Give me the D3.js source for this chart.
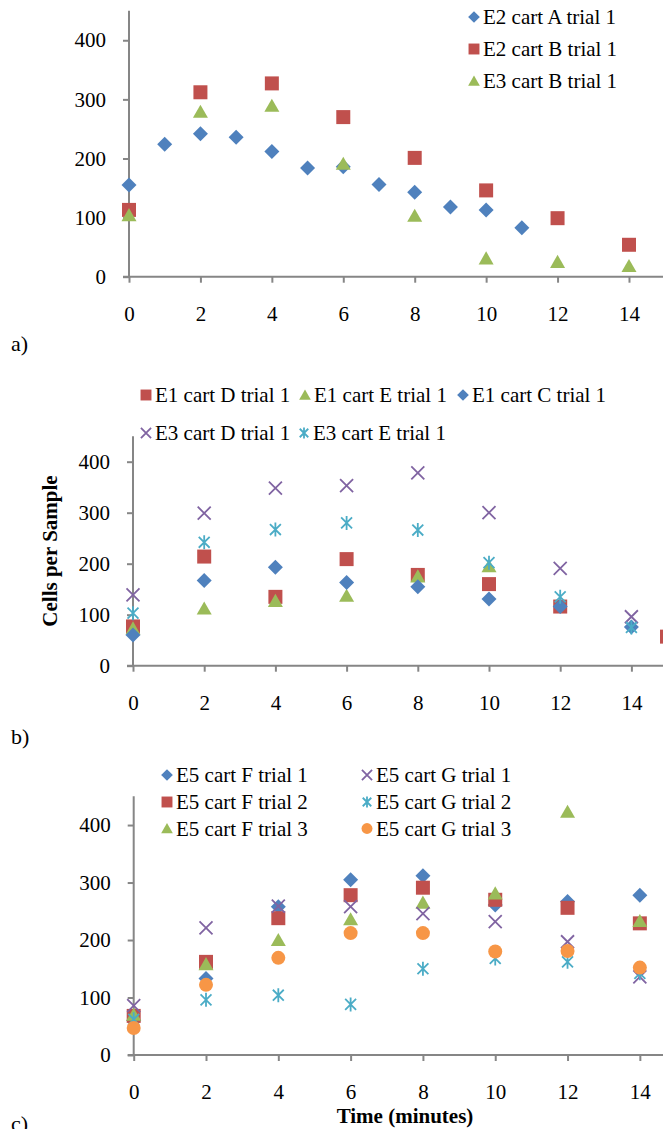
<!DOCTYPE html>
<html><head><meta charset="utf-8">
<script src="https://cdn.jsdelivr.net/npm/d3@7"></script>
<style>
html,body{margin:0;padding:0;background:#fff;}
svg{display:block;}
text{font-family:"Liberation Serif","Times New Roman",serif;fill:#000;}
</style></head>
<body>
<svg id="chart" width="663" height="1129"></svg>
<script>
// ---------- DATA ----------
const xTicks = [0, 2, 4, 6, 8, 10, 12, 14];
const yTicks = [0, 100, 200, 300, 400];

// Panel a
const aTimeA = [0, 1, 2, 3, 4, 5, 6, 7, 8, 9, 10, 11];
const aE2CartA = [155, 224, 242, 236, 212, 184, 186, 156, 143, 118, 113, 83];
const aTimeEven = [0, 2, 4, 6, 8, 10, 12, 14];
const aE2CartB = [113, 312, 327, 270, 201, 146, 99, 54];
const aE3CartB = [104, 279, 289, 191, 103, 31, 25, 18];

// Panel b
const bTimeD = [0, 2, 4, 6, 8, 10, 12, 15];
const bE1CartD = [77, 214, 135, 209, 178, 160, 116, 57];
const bTimeE = [0, 2, 4, 6, 8, 10];
const bE1CartE = [73, 112, 127, 137, 175, 195];
const bTime = [0, 2, 4, 6, 8, 10, 12, 14];
const bE1CartC = [60, 167, 193, 163, 155, 131, 116, 76];
const bE3CartD = [139, 299, 348, 353, 378, 300, 191, 96];
const bE3CartE = [103, 242, 267, 280, 266, 202, 135, 75];

// Panel c
const cTime = [0, 2, 4, 6, 8, 10, 12, 14];
const cFtrial1 = [60, 133, 258, 305, 312, 261, 267, 278];
const cFtrial2 = [68, 162, 238, 278, 291, 270, 256, 229];
const cFtrial3 = [70, 158, 200, 236, 265, 281, 423, 233];
const cGtrial1 = [86, 221, 259, 258, 246, 232, 197, 136];
const cGtrial2 = [62, 96, 104, 88, 150, 168, 162, 142];
const cGtrial3 = [47, 122, 169, 212, 212, 180, 181, 152];

// ---------- STYLE ----------
const C = {blue:"#4F81BD", red:"#C0504D", green:"#9BBB59", purple:"#8064A2", cyan:"#4BACC6", orange:"#F79646"};
const AXIS = "#868686";
const FS = 21;

const svg = d3.select("#chart");

// marker shapes as d3 symbol types (s = half size)
const shapes = {
  diamond: {draw(ctx, s){ ctx.moveTo(0,-s); ctx.lineTo(s,0); ctx.lineTo(0,s); ctx.lineTo(-s,0); ctx.closePath(); }},
  square: {draw(ctx, s){ ctx.rect(-s,-s,2*s,2*s); }},
  triangle: {draw(ctx, s){ ctx.moveTo(0,-s*0.95); ctx.lineTo(s,s*0.8); ctx.lineTo(-s,s*0.8); ctx.closePath(); }},
  circle: {draw(ctx, s){ ctx.moveTo(s,0); ctx.arc(0,0,s,0,2*Math.PI); }},
  x: {draw(ctx, s){ ctx.moveTo(-s,-s); ctx.lineTo(s,s); ctx.moveTo(s,-s); ctx.lineTo(-s,s); }},
  star: {draw(ctx, s){ const d=s*0.78; ctx.moveTo(-d,-d); ctx.lineTo(d,d); ctx.moveTo(d,-d); ctx.lineTo(-d,d); ctx.moveTo(0,-s); ctx.lineTo(0,s); }}
};
const sizes = {diamond:7.5, square:7, triangle:7.5, circle:7, x:6.5, star:7};
const stroked = {x:true, star:true};

function marker(g, shape, color, cx, cy, scale){
  const s = sizes[shape]*(scale||1);
  const p = g.append("path")
    .attr("d", d3.symbol().type(shapes[shape]).size(s)())
    .attr("transform", `translate(${cx},${cy})`);
  if (stroked[shape]) p.attr("fill","none").attr("stroke",color).attr("stroke-width",1.8);
  else p.attr("fill",color);
}

function panel(cfg){
  const x = d3.scaleLinear().domain([0,15]).range([cfg.left, cfg.right]);
  const y = d3.scaleLinear().domain([0,450]).range([cfg.bottom, cfg.top]);
  const g = svg.append("g");

  const ya = g.append("g").attr("transform",`translate(${cfg.left},0)`)
    .call(d3.axisLeft(y).tickValues(yTicks).tickSize(6).tickPadding(17).tickFormat(d3.format("d")));
  const xa = g.append("g").attr("transform",`translate(0,${cfg.bottom})`)
    .call(d3.axisBottom(x).tickValues(xTicks).tickSize(6).tickPadding(23).tickFormat(d3.format("d")));
  [ya, xa].forEach(a => {
    a.select(".domain").attr("stroke",AXIS).attr("stroke-width",2);
    a.selectAll(".tick line").attr("stroke",AXIS).attr("stroke-width",2);
    a.selectAll("text").attr("font-size",FS).attr("font-family","Liberation Serif, Times New Roman, serif").attr("fill","#000");
  });
  ya.select(".domain").attr("d", `M0,${cfg.bottom}V${cfg.top}`);
  xa.select(".domain").attr("d", `M${cfg.left - 6},0H${cfg.right}`);

  cfg.series.forEach(s => {
    s.t.forEach((t,i) => marker(g, s.shape, s.color, x(t), y(s.v[i])));
  });

  // legend
  cfg.legend.forEach(l => {
    const s = cfg.series[l.idx];
    marker(g, s.shape, s.color, l.x, l.y, 0.78);
    g.append("text").attr("x", l.x + 9).attr("y", l.y + 7).attr("font-size",FS).text(s.name);
  });
  return {x,y};
}

// Panel a
panel({
  left:129, right:664.7, top:10.7, bottom:276.7,
  series:[
    {name:"E2 cart A trial 1", t:aTimeA, v:aE2CartA, shape:"diamond", color:C.blue},
    {name:"E2 cart B trial 1", t:aTimeEven, v:aE2CartB, shape:"square", color:C.red},
    {name:"E3 cart B trial 1", t:aTimeEven, v:aE3CartB, shape:"triangle", color:C.green}
  ],
  legend:[{idx:0,x:474,y:17},{idx:1,x:474,y:49},{idx:2,x:474,y:81}]
});

// Panel b
panel({
  left:133, right:667, top:436.2, bottom:665.7,
  series:[
    {name:"E1 cart D trial 1", t:bTimeD, v:bE1CartD, shape:"square", color:C.red},
    {name:"E1 cart E trial 1", t:bTimeE, v:bE1CartE, shape:"triangle", color:C.green},
    {name:"E1 cart C trial 1", t:bTime, v:bE1CartC, shape:"diamond", color:C.blue},
    {name:"E3 cart D trial 1", t:bTime, v:bE3CartD, shape:"x", color:C.purple},
    {name:"E3 cart E trial 1", t:bTime, v:bE3CartE, shape:"star", color:C.cyan}
  ],
  legend:[{idx:0,x:146,y:395},{idx:1,x:305,y:395},{idx:2,x:463,y:395},{idx:3,x:146,y:433},{idx:4,x:304,y:433}]
});

// Panel c
panel({
  left:133.7, right:676, top:796.3, bottom:1055,
  series:[
    {name:"E5 cart F trial 1", t:cTime, v:cFtrial1, shape:"diamond", color:C.blue},
    {name:"E5 cart F trial 2", t:cTime, v:cFtrial2, shape:"square", color:C.red},
    {name:"E5 cart F trial 3", t:cTime, v:cFtrial3, shape:"triangle", color:C.green},
    {name:"E5 cart G trial 1", t:cTime, v:cGtrial1, shape:"x", color:C.purple},
    {name:"E5 cart G trial 2", t:cTime, v:cGtrial2, shape:"star", color:C.cyan},
    {name:"E5 cart G trial 3", t:cTime, v:cGtrial3, shape:"circle", color:C.orange}
  ],
  legend:[{idx:0,x:167,y:775},{idx:1,x:167,y:802},{idx:2,x:167,y:828.5},
          {idx:3,x:367,y:775},{idx:4,x:367,y:802},{idx:5,x:367,y:828.5}]
});

// Titles and panel labels
svg.append("text").attr("transform","translate(57,551) rotate(-90)").attr("text-anchor","middle")
  .attr("font-size",FS).attr("font-weight","bold").text("Cells per Sample");
svg.append("text").attr("x",405).attr("y",1123).attr("text-anchor","middle")
  .attr("font-size",FS).attr("font-weight","bold").text("Time (minutes)");
svg.append("text").attr("x",11).attr("y",351).attr("font-size",22).text("a)");
svg.append("text").attr("x",11).attr("y",744).attr("font-size",22).text("b)");
svg.append("text").attr("x",11).attr("y",1131).attr("font-size",22).text("c)");
</script>
</body></html>
